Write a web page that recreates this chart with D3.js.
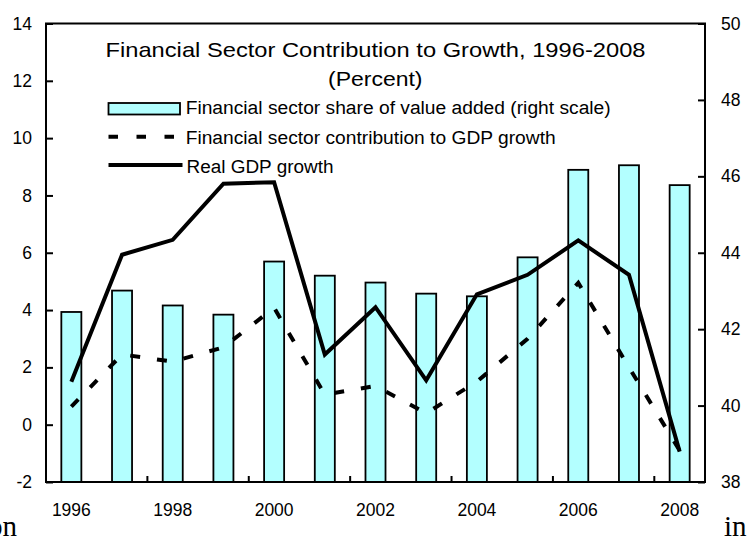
<!DOCTYPE html>
<html><head><meta charset="utf-8">
<script src="https://cdn.jsdelivr.net/npm/d3@7"></script>
<style>
html,body{margin:0;padding:0;background:#fff;}
svg{display:block;font-family:"Liberation Sans",Arial,sans-serif;}
</style></head>
<body>
<svg id="c" width="752" height="536"></svg>
<script>
const years = [1996,1997,1998,1999,2000,2001,2002,2003,2004,2005,2006,2007,2008];
const shareValueAdded = [42.45,43.01,42.62,42.38,43.77,43.40,43.22,42.93,42.86,43.88,46.17,46.29,45.77];
const finContribution = [0.63,2.45,2.2,2.7,4.08,1.05,1.35,0.4,1.5,3.0,4.95,2.0,-0.9];
const realGdpGrowth = [1.5,5.93,6.45,8.41,8.46,2.45,4.1,1.55,4.55,5.23,6.43,5.23,-0.94];
const leftTicks = [-2,0,2,4,6,8,10,12,14];
const rightTicks = [38,40,42,44,46,48,50];
const xLabelYears = [1996,1998,2000,2002,2004,2006,2008];
const titleLines = ["Financial Sector Contribution to Growth, 1996-2008","(Percent)"];
const legendLabels = ["Financial sector share of value added (right scale)","Financial sector contribution to GDP growth","Real GDP growth"];

const svg = d3.select("#c");
const L=46, R=705, T=23.5, B=482;
const p = 0.605;
const x = d3.scaleBand().domain(years).range([L,R]).paddingInner(p).paddingOuter(p/2);
const yL = d3.scaleLinear().domain([-2,14]).range([B,T]);
const yR = d3.scaleLinear().domain([38,50]).range([B,T]);
const cx = d => x(d)+x.bandwidth()/2;
const fmt = d => String(d);

// bars
svg.append("g").selectAll("rect").data(years).join("rect")
  .attr("x", d=>x(d)).attr("width", x.bandwidth())
  .attr("y", (d,i)=>yR(shareValueAdded[i]))
  .attr("height", (d,i)=>yR(38)-yR(shareValueAdded[i]))
  .attr("fill","#b3ffff").attr("stroke","#000").attr("stroke-width",1.8);

// lines
const line = d3.line().x(d=>cx(d.year)).y(d=>yL(d.v));
svg.append("path").datum(years.map((y,i)=>({year:y,v:finContribution[i]})))
  .attr("d",line).attr("fill","none").attr("stroke","#000").attr("stroke-width",4)
  .attr("stroke-dasharray","10,17");
svg.append("path").datum(years.map((y,i)=>({year:y,v:realGdpGrowth[i]})))
  .attr("d",line).attr("fill","none").attr("stroke","#000").attr("stroke-width",4)
  .attr("stroke-linejoin","miter");

// frame
svg.append("rect").attr("x",L).attr("y",T).attr("width",R-L).attr("height",B-T)
  .attr("fill","none").attr("stroke","#000").attr("stroke-width",2);

const tickFont = 17.5;
// left axis
const ga = svg.append("g").attr("transform",`translate(${L},0)`)
  .call(d3.axisLeft(yL).tickValues(leftTicks).tickFormat(fmt).tickSizeInner(-7).tickSizeOuter(0).tickPadding(14));
ga.select(".domain").remove();
ga.selectAll("line").attr("stroke-width",2);
ga.selectAll("text").attr("font-size",tickFont).attr("font-family","Liberation Sans, Arial").attr("fill","#000");

// right axis
const gr = svg.append("g").attr("transform",`translate(${R},0)`)
  .call(d3.axisRight(yR).tickValues(rightTicks).tickFormat(fmt).tickSizeInner(-7).tickSizeOuter(0).tickPadding(16));
gr.select(".domain").remove();
gr.selectAll("line").attr("stroke-width",2);
gr.selectAll("text").attr("font-size",tickFont).attr("font-family","Liberation Sans, Arial").attr("fill","#000");

// bottom axis labels
const gb = svg.append("g").attr("transform",`translate(0,${B})`)
  .call(d3.axisBottom(x).tickValues(xLabelYears).tickFormat(fmt).tickSize(0).tickPadding(22));
gb.select(".domain").remove();
gb.selectAll("text").attr("font-size",tickFont).attr("font-family","Liberation Sans, Arial").attr("fill","#000");

// bottom tick marks at every other category boundary
const half = (x.step()-x.bandwidth())/2;
svg.append("g").selectAll("line").data(years.filter((d,i)=>i>0 && i%2===0)).join("line")
  .attr("x1",d=>x(d)-half).attr("x2",d=>x(d)-half)
  .attr("y1",B).attr("y2",B-6).attr("stroke","#000").attr("stroke-width",2);

// title
svg.append("text").attr("x",105.5).attr("y",56.7).attr("font-size",21)
  .attr("textLength",540).attr("lengthAdjust","spacingAndGlyphs").text(titleLines[0]);
svg.append("text").attr("x",328).attr("y",86).attr("font-size",21)
  .attr("textLength",94.5).attr("lengthAdjust","spacingAndGlyphs").text(titleLines[1]);

// legend
const lg = svg.append("g");
lg.append("rect").attr("x",108.5).attr("y",103).attr("width",71.5).attr("height",11.5)
  .attr("fill","#b3ffff").attr("stroke","#000").attr("stroke-width",1.8);
lg.append("line").attr("x1",108.5).attr("x2",175).attr("y1",136.7).attr("y2",136.7)
  .attr("stroke","#000").attr("stroke-width",4).attr("stroke-dasharray","9.5,18.5");
lg.append("line").attr("x1",108.5).attr("x2",182.5).attr("y1",165).attr("y2",165)
  .attr("stroke","#000").attr("stroke-width",4);
const legY=[113.5,144,172.5], legX=[185.7,185.7,186.5], legW=[425,370,147];
legendLabels.forEach((t,i)=>{
  lg.append("text").attr("x",legX[i]).attr("y",legY[i]).attr("font-size",18)
    .attr("textLength",legW[i]).attr("lengthAdjust","spacingAndGlyphs").text(t);
});

// stray page text fragments (cut at the page edge, as in the reference)
svg.append("text").attr("x",17).attr("y",536).attr("text-anchor","end")
  .attr("font-family","Liberation Serif, Times New Roman, serif").attr("font-size",29).text("on");
svg.append("text").attr("x",724).attr("y",536)
  .attr("font-family","Liberation Serif, Times New Roman, serif").attr("font-size",29).text("in");
</script>
</body></html>
